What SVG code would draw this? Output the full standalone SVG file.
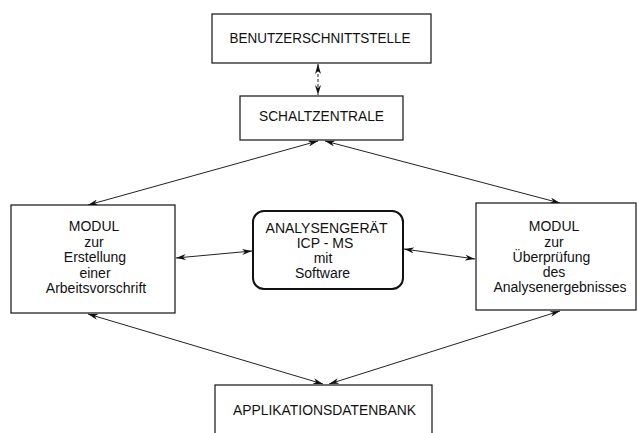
<svg xmlns="http://www.w3.org/2000/svg" width="639" height="433" viewBox="0 0 639 433">
<style>
.box{fill:#fff;stroke:#111;stroke-width:1.2}
.main{fill:#fff;stroke:#111;stroke-width:2}
text{font-family:"Liberation Sans",Arial,sans-serif;font-size:14px;fill:#111;text-anchor:middle}
.con{stroke:#222;stroke-width:1;fill:none;marker-start:url(#ah);marker-end:url(#ah)}
</style>
<defs>
<marker id="ah" viewBox="0 0 10 6" refX="10" refY="3" markerWidth="10" markerHeight="6" markerUnits="userSpaceOnUse" orient="auto-start-reverse">
<path d="M0,0 L10,3 L0,6 L3,3 Z" fill="#111"/>
</marker>
</defs>
<rect width="639" height="433" fill="#fff"/>
<g id="connectors">
<line class="con" x1="318" y1="64" x2="318" y2="95" stroke-dasharray="3,2"/>
<line class="con" x1="318" y1="141" x2="88" y2="205"/>
<line class="con" x1="325" y1="141" x2="560" y2="203"/>
<line class="con" x1="176" y1="258" x2="252" y2="251"/>
<line class="con" x1="404" y1="249" x2="475" y2="259"/>
<line class="con" x1="88" y1="314" x2="323" y2="384"/>
<line class="con" x1="560" y1="311" x2="329" y2="384"/>
</g>
<g id="benutzerschnittstelle">
<rect class="box" x="212" y="14" width="219" height="49"/>
<text x="320" y="43" textLength="181" lengthAdjust="spacingAndGlyphs">BENUTZERSCHNITTSTELLE</text>
</g>
<g id="schaltzentrale">
<rect class="box" x="240" y="96" width="163" height="44"/>
<text x="321.5" y="121" textLength="125" lengthAdjust="spacingAndGlyphs">SCHALTZENTRALE</text>
</g>
<g id="modul-erstellung">
<rect class="box" x="11" y="205" width="164" height="108"/>
<text x="94" y="231">MODUL</text>
<text x="94" y="246.5">zur</text>
<text x="95" y="262">Erstellung</text>
<text x="95" y="277.5">einer</text>
<text x="96" y="293">Arbeitsvorschrift</text>
</g>
<g id="analysengeraet">
<rect class="main" x="253" y="211" width="150" height="78" rx="11" ry="11"/>
<text x="326.5" y="233">ANALYSENGERÄT</text>
<text x="325" y="248">ICP - MS</text>
<text x="323" y="263">mit</text>
<text x="322.5" y="278">Software</text>
</g>
<g id="modul-ueberpruefung">
<rect class="box" x="476" y="203" width="160" height="107"/>
<text x="554" y="231">MODUL</text>
<text x="554" y="246.5">zur</text>
<text x="551.5" y="262">Überprüfung</text>
<text x="554" y="277">des</text>
<text x="560" y="292">Analysenergebnisses</text>
</g>
<g id="applikationsdatenbank">
<rect class="box" x="215" y="385" width="217" height="60"/>
<text x="324.5" y="415" textLength="183" lengthAdjust="spacingAndGlyphs">APPLIKATIONSDATENBANK</text>
</g>
</svg>
